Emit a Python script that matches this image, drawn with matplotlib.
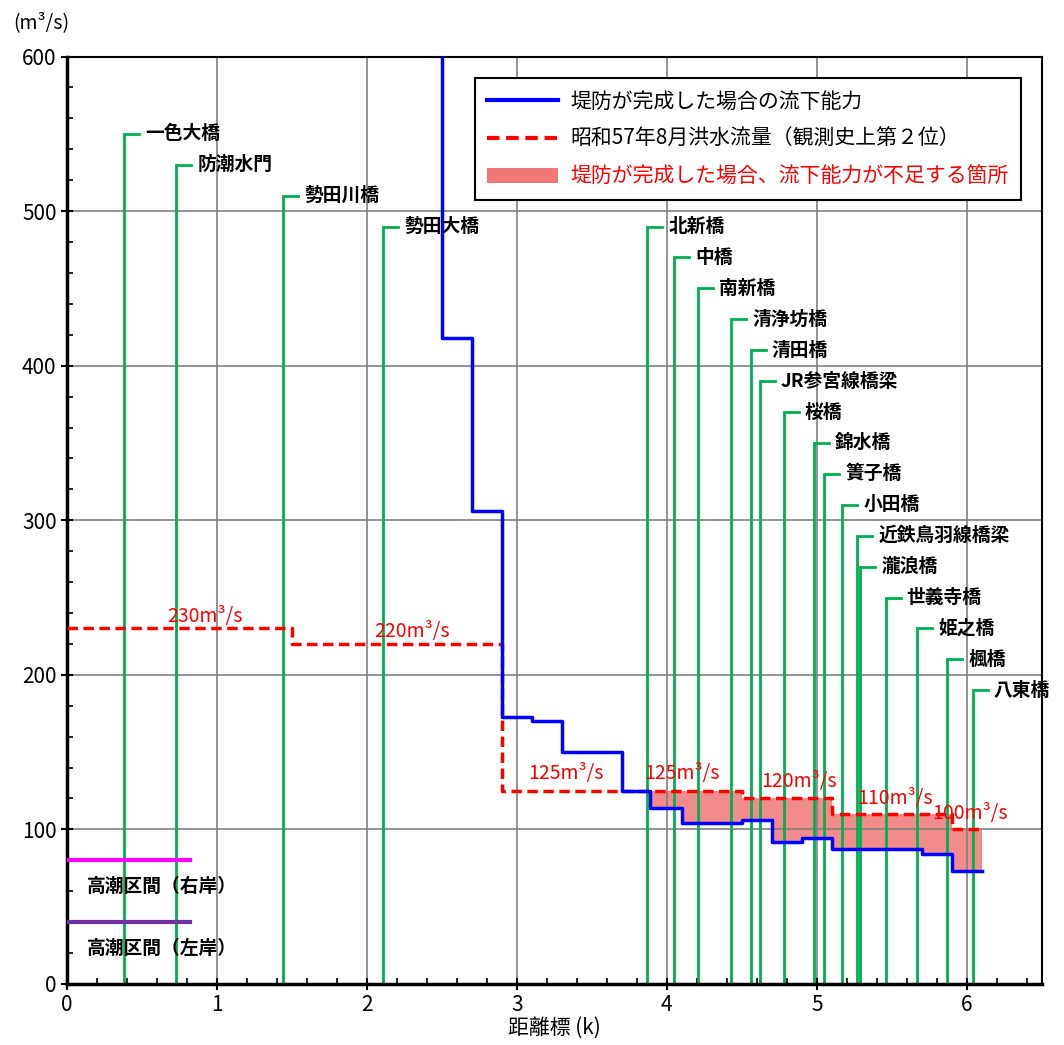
import numpy as np
import matplotlib
matplotlib.use("Agg")
import matplotlib.pyplot as plt
from matplotlib.lines import Line2D
from matplotlib.patches import Patch

plt.rcParams['font.family'] = ['Noto Sans CJK JP', 'DejaVu Sans']

# bridges: name, distance (k), label height
bridge_names = ['一色大橋', '防潮水門', '勢田川橋', '勢田大橋', '北新橋', '中橋', '南新橋',
                '清浄坊橋', '清田橋', 'JR参宮線橋梁', '桜橋', '錦水橋', '簀子橋', '小田橋',
                '近鉄鳥羽線橋梁', '瀧浪橋', '世義寺橋', '姫之橋', '楓橋', '八東橋']
bridge_x = [0.38, 0.73, 1.44, 2.11, 3.87, 4.05, 4.21, 4.43, 4.56, 4.62, 4.78,
            4.98, 5.05, 5.17, 5.27, 5.29, 5.46, 5.67, 5.87, 6.04]
bridge_top = [550, 530, 510, 490, 490, 470, 450, 430, 410, 390, 370,
              350, 330, 310, 290, 270, 250, 230, 210, 190]

# flow capacity after levee completion (step, post)
cap_x = [2.5, 2.5, 2.7, 2.9, 3.1, 3.3, 3.7, 3.89, 4.1, 4.5, 4.7, 4.9, 5.1, 5.7, 5.9, 6.1]
cap_y = [600, 418, 306, 173, 170, 150, 125, 114, 104, 106, 92, 94.5, 87, 84, 73, 73]

# S57.8 flood discharge (step, post)
flood_x = [0.0, 1.5, 2.9, 4.5, 5.1, 5.9, 6.1]
flood_y = [230, 220, 125, 120, 110, 100, 100]

flood_labels = ['230m³/s', '220m³/s', '125m³/s', '125m³/s', '120m³/s', '110m³/s', '100m³/s']
flood_label_x = [0.92, 2.3, 3.33, 4.1, 4.88, 5.52, 6.02]
flood_label_y = [238, 228, 136, 136, 131, 120, 110]

# high tide sections
tide_names = ['高潮区間（右岸）', '高潮区間（左岸）']
tide_y = [80, 40]
tide_end = 0.82
tide_colors = ['#ff00ff', '#7030a0']

fig = plt.figure(figsize=(10.64, 10.45), dpi=100)
ax = fig.add_axes([0.063, 0.0584, 0.916, 0.8875])

ax.set_xlim(0, 6.5)
ax.set_ylim(0, 600)
ax.set_xticks(np.arange(0, 7, 1))
ax.set_yticks(np.arange(0, 700, 100))
ax.set_xticks(np.arange(0, 6.5, 0.2), minor=True)
ax.set_yticks(np.arange(0, 600, 20), minor=True)
ax.grid(True, which='major', color='#808080', linewidth=1.2)
ax.tick_params(which='major', direction='inout', length=8, width=1.5, labelsize=15)
ax.tick_params(which='minor', direction='in', length=4, width=1.2)
for s in ['left', 'bottom']:
    ax.spines[s].set_linewidth(2.5)
for s in ['top', 'right']:
    ax.spines[s].set_linewidth(1.5)

# shortage fill
fx = np.array(cap_x[7:])
fill_low = np.array(cap_y[7:])
fill_high = np.array([flood_y[np.searchsorted(flood_x, v, side='right') - 1] for v in fx])
ax.fill_between(fx, fill_low, fill_high, step='post', color='#f07878', alpha=0.85,
                lw=0, zorder=1.5)

# bridges
green = '#00b050'
for name, bx, top in zip(bridge_names, bridge_x, bridge_top):
    ax.plot([bx, bx, bx + 0.1], [0, top, top], color=green, lw=2, zorder=2,
            solid_joinstyle='miter')
    ax.text(bx + 0.14, top, name, fontsize=13.5, fontweight='bold',
            va='center', ha='left', zorder=5)

ax.step(flood_x, flood_y, where='post', color='red', lw=2.5, ls=(0, (3, 1.6)), zorder=4)
ax.step(cap_x, cap_y, where='post', color='blue', lw=2.5, zorder=4)

for lab, lx, ly in zip(flood_labels, flood_label_x, flood_label_y):
    ax.text(lx, ly, lab, color='red', fontsize=14, ha='center', va='center', zorder=6)

for name, ty, tc in zip(tide_names, tide_y, tide_colors):
    ax.plot([0, tide_end], [ty, ty], color=tc, lw=3, zorder=4)
    ax.text(0.13, ty - 17, name, fontsize=13.5, fontweight='bold', va='center', ha='left')

ax.set_xlabel('距離標 (k)', fontsize=15, labelpad=0)
fig.text(0.012, 0.978, '(m³/s)', fontsize=14, ha='left', va='center')

handles = [Line2D([], [], color='blue', lw=3),
           Line2D([], [], color='red', lw=3, ls=(0, (3, 1.6))),
           Patch(facecolor='#f07878', edgecolor='none')]
labels = ['堤防が完成した場合の流下能力', '昭和57年8月洪水流量（観測史上第２位）',
          '堤防が完成した場合、流下能力が不足する箇所']
leg = ax.legend(handles, labels, loc='upper right', bbox_to_anchor=(0.99, 0.988),
                fontsize=15, fancybox=False, edgecolor='black', framealpha=1,
                handlelength=3.4, borderpad=0.6, labelspacing=0.75, handletextpad=0.6)
leg.get_frame().set_linewidth(1.5)
leg.get_texts()[2].set_color('red')
leg.set_zorder(10)

fig.savefig('out.png', dpi=100)
